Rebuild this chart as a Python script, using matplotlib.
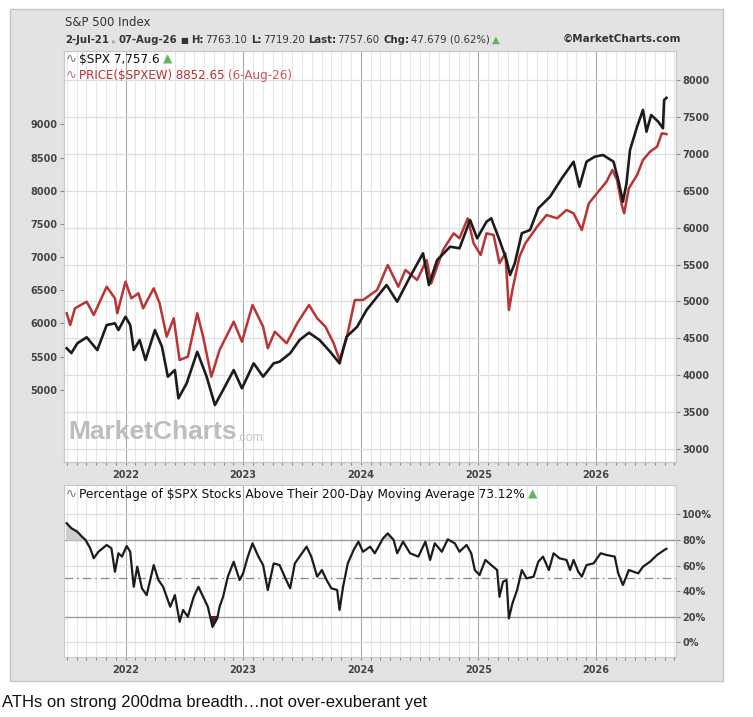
import numpy as np
import matplotlib.pyplot as plt
from matplotlib.patches import Rectangle
from matplotlib.lines import Line2D
from matplotlib.text import Annotation

plt.rcParams["font.family"] = ["DejaVu Sans"]

# --- data (decimal years) ---
t_spx = [2021.50, 2021.54, 2021.59, 2021.67, 2021.76, 2021.84, 2021.91, 2021.94,
         2022.00, 2022.04, 2022.07, 2022.12, 2022.17, 2022.25, 2022.31, 2022.36,
         2022.42, 2022.45, 2022.52, 2022.61, 2022.69, 2022.76, 2022.83, 2022.92,
         2022.99, 2023.09, 2023.17, 2023.26, 2023.31, 2023.40, 2023.48, 2023.56,
         2023.65, 2023.74, 2023.82, 2023.88, 2023.97, 2024.05, 2024.14, 2024.22,
         2024.31, 2024.42, 2024.53, 2024.58, 2024.65, 2024.76, 2024.84, 2024.93,
         2024.99, 2025.07, 2025.11, 2025.18, 2025.24, 2025.27, 2025.31, 2025.37,
         2025.44, 2025.51, 2025.61, 2025.71, 2025.81, 2025.86, 2025.92, 2025.99,
         2026.06, 2026.15, 2026.19, 2026.23, 2026.26, 2026.29, 2026.35, 2026.40,
         2026.43, 2026.47, 2026.53, 2026.57, 2026.58, 2026.60]
spx = [4365, 4300, 4432, 4514, 4341, 4680, 4703, 4612,
       4793, 4680, 4341, 4477, 4206, 4612, 4386, 3980,
       4070, 3687, 3890, 4318, 3980, 3596, 3800, 4070,
       3822, 4161, 3980, 4161, 4183, 4297, 4477, 4576,
       4477, 4318, 4161, 4522, 4657, 4884, 5064, 5222,
       4996, 5335, 5652, 5222, 5561, 5741, 5720, 6103,
       5855, 6080, 6126, 5832, 5561, 5358, 5516, 5923,
       5968, 6262, 6419, 6668, 6893, 6554, 6893, 6961,
       6984, 6893, 6645, 6351, 6600, 7052, 7367, 7594,
       7300, 7526, 7435, 7346, 7729, 7758]

t_ew = [2021.50, 2021.53, 2021.57, 2021.67, 2021.73, 2021.84, 2021.91, 2021.93,
        2022.00, 2022.05, 2022.11, 2022.15, 2022.24, 2022.29, 2022.35, 2022.41,
        2022.46, 2022.53, 2022.61, 2022.66, 2022.73, 2022.80, 2022.92, 2022.99,
        2023.08, 2023.17, 2023.21, 2023.27, 2023.37, 2023.46, 2023.56, 2023.63,
        2023.70, 2023.77, 2023.82, 2023.88, 2023.95,
        2024.02, 2024.14, 2024.23, 2024.32, 2024.38, 2024.48, 2024.56, 2024.60,
        2024.70, 2024.79, 2024.84, 2024.91, 2024.96,
        2025.02, 2025.07, 2025.13, 2025.18, 2025.23, 2025.26, 2025.29, 2025.35,
        2025.40, 2025.50, 2025.58, 2025.67, 2025.75, 2025.81, 2025.88, 2025.94,
        2026.02, 2026.09, 2026.14, 2026.18, 2026.22, 2026.24, 2026.28, 2026.35,
        2026.40, 2026.46, 2026.52, 2026.56, 2026.60]
ew = [6154, 5977, 6229, 6328, 6128, 6554, 6380, 6154,
      6630, 6380, 6455, 6229, 6530, 6304, 5801, 6078,
      5450, 5500, 6154, 5801, 5199, 5601, 6027, 5726,
      6279, 5952, 5627, 5877, 5702, 6003, 6279, 6078,
      5952, 5702, 5450, 5777, 6354,
      6354, 6505, 6881, 6554, 6806, 6655, 6956, 6605,
      7107, 7358, 7283, 7584, 7208,
      7032, 7358, 7333, 6907, 7057, 6203, 6505, 7006,
      7208, 7458, 7634, 7584, 7709, 7660, 7408, 7810,
      7985, 8136, 8312, 8161, 7785, 7660, 8036, 8236,
      8462, 8587, 8663, 8864, 8853]

t_br = [2021.50, 2021.54, 2021.59, 2021.63, 2021.66, 2021.70, 2021.73, 2021.77,
        2021.84, 2021.88, 2021.91, 2021.94, 2021.97,
        2022.01, 2022.04, 2022.07, 2022.10, 2022.14, 2022.18, 2022.24, 2022.28,
        2022.32, 2022.38, 2022.42, 2022.46, 2022.49, 2022.53, 2022.58, 2022.62,
        2022.66, 2022.70, 2022.74, 2022.78, 2022.80, 2022.83, 2022.87, 2022.92, 2022.97,
        2023.00, 2023.04, 2023.08, 2023.13, 2023.17, 2023.21, 2023.26, 2023.31,
        2023.36, 2023.40, 2023.44, 2023.48, 2023.54, 2023.58, 2023.63, 2023.67,
        2023.71, 2023.75, 2023.80, 2023.82, 2023.85, 2023.89, 2023.94, 2023.98,
        2024.02, 2024.08, 2024.12, 2024.19, 2024.23, 2024.28, 2024.31, 2024.36,
        2024.42, 2024.49, 2024.55, 2024.59, 2024.63, 2024.69, 2024.74, 2024.80,
        2024.84, 2024.90, 2024.94, 2024.97,
        2025.01, 2025.06, 2025.11, 2025.16, 2025.18, 2025.21, 2025.24, 2025.26,
        2025.29, 2025.33, 2025.37, 2025.41, 2025.47, 2025.51, 2025.55, 2025.60,
        2025.64, 2025.69, 2025.75, 2025.78, 2025.81, 2025.85, 2025.88, 2025.92, 2025.98,
        2026.04, 2026.09, 2026.16, 2026.19, 2026.23, 2026.28, 2026.32, 2026.36,
        2026.40, 2026.46, 2026.52, 2026.56, 2026.59, 2026.60]
breadth = [93.1, 89.2, 86.5, 82.6, 80.0, 73.5, 65.7, 70.8,
           76.1, 73.5, 55.2, 69.6, 67.0,
           75.3, 70.8, 43.4, 59.1, 42.2, 36.9, 60.4, 48.7,
           43.4, 27.8, 36.9, 16.1, 25.3, 20.0, 35.6, 43.4,
           35.6, 27.8, 12.1, 18.7, 27.8, 35.6, 51.3, 63.0, 48.7,
           53.9, 67.0, 77.4, 67.0, 60.4, 40.9, 61.7, 60.4,
           50.0, 42.2, 61.7, 67.0, 74.8, 67.0, 51.3, 56.5,
           48.7, 42.2, 40.9, 25.3, 43.4, 61.7, 72.2, 78.7,
           70.8, 74.8, 69.6, 81.3, 85.2, 80.0, 69.6, 78.7,
           69.6, 67.0, 78.7, 64.4, 77.4, 70.8, 80.5, 77.4,
           70.8, 76.1, 69.6, 56.5,
           52.6, 64.4, 60.4, 56.5, 35.6, 47.4, 48.7, 18.7,
           30.4, 40.9, 56.5, 50.0, 51.3, 63.0, 67.0, 56.5,
           69.6, 65.7, 64.4, 56.5, 64.4, 55.2, 51.3, 60.4, 61.7,
           69.6, 68.3, 67.0, 53.9, 44.8, 56.5, 55.2, 53.9,
           59.1, 63.0, 68.3, 70.8, 72.7, 73.12]

years = [2022, 2023, 2024, 2025, 2026]
left_ticks = list(range(5000, 9001, 500))
right_ticks = list(range(3000, 8001, 500))
pct_ticks = [0, 20, 40, 60, 80, 100]

W, H = 753, 717
fig = plt.figure(figsize=(W / 100, H / 100), dpi=100)
fig.patch.set_facecolor("white")


def fx(px):
    return px / W


def fy(py):
    return 1 - py / H


# gray chart frame
fig.add_artist(Rectangle((fx(10), fy(681)), fx(723) - fx(10), fy(9) - fy(681),
                         transform=fig.transFigure, facecolor="#e3e3e3",
                         edgecolor="#c6c6c6", lw=1, zorder=0))

X0, X1 = 2021.477, 2026.681
months = [y + m / 12 for y in range(2021, 2027) for m in range(12)]
months = [m for m in months if X0 < m < X1]

TICK = dict(labelsize=7, labelcolor="#444444", color="#888888", width=0.8)


def vgrid(a):
    for m in months:
        is_year = abs(m - round(m)) < 1e-6
        a.axvline(m, color="#aaaaaa" if is_year else "#e6e6e6", lw=0.8, zorder=0)


def style(a):
    for s in a.spines.values():
        s.set_color("#c8c8c8")
        s.set_linewidth(0.8)


def bold_labels(a):
    for lbl in a.get_xticklabels() + a.get_yticklabels():
        lbl.set_fontweight("bold")


# ---- price panel ----
ax = fig.add_axes([fx(64), fy(462), 612 / W, 411 / H])
axr = ax.twinx()
vgrid(ax)
for v in right_ticks:
    ax.add_line(Line2D([0, 1], [v, v], transform=axr.get_yaxis_transform(),
                       color="#dedede", lw=0.9, zorder=0.5))
ax.plot(t_ew, ew, color="#b93434", lw=1.8, zorder=2)
axr.plot(t_spx, spx, color="#1c1c1c", lw=1.9)
ax.set_xlim(X0, X1)
ax.set_ylim(3914, 10104)
axr.set_ylim(2824, 8393)
ax.set_yticks(left_ticks)
axr.set_yticks(right_ticks)
ax.set_xticks(years, [str(y) for y in years])
ax.set_xticks(months, minor=True)
ax.tick_params(axis="y", length=3, pad=1.5, **TICK)
axr.tick_params(axis="y", length=3, pad=1.5, **TICK)
ax.tick_params(axis="x", which="both", length=2, pad=4, **TICK)
style(ax)
style(axr)
bold_labels(ax)
bold_labels(axr)

# ---- breadth panel ----
axb = fig.add_axes([fx(64), fy(657), 612 / W, 172 / H])
vgrid(axb)
for v in [0, 40, 60, 100]:
    axb.axhline(v, color="#dedede", lw=0.9, zorder=0.5)
for v in [20, 80]:
    axb.axhline(v, color="#9a9a9a", lw=1.0, zorder=1)
axb.axhline(50, color="#8a8a8a", lw=0.9, dashes=(7, 3, 1.5, 3), zorder=1)
br = np.array(breadth)
axb.fill_between(t_br, br, 80, where=br >= 80, interpolate=True, color="#cdcdcd", zorder=1.5)
axb.fill_between(t_br, br, 20, where=br <= 20, interpolate=True, color="#5a1c1c", zorder=1.5)
axb.plot(t_br, br, color="#1c1c1c", lw=1.6, zorder=2)
axb.set_xlim(X0, X1)
axb.set_ylim(-11.5, 123)
axb.yaxis.tick_right()
axb.set_yticks(pct_ticks, [f"{v}%" for v in pct_ticks])
axb.set_xticks(years, [str(y) for y in years])
axb.set_xticks(months, minor=True)
axb.tick_params(axis="y", length=3, pad=1.5, **TICK)
axb.tick_params(axis="x", which="both", length=2, pad=4, **TICK)
style(axb)
bold_labels(axb)


# ---- texts ----
def run(x, y, pieces, size=7.5):
    """Write text pieces one after the other starting at pixel (x, y)."""
    prev = None
    for s, kw, gap in pieces:
        opts = dict(fontsize=size, color="#333333", va="bottom", ha="left")
        opts.update(kw)
        if prev is None:
            prev = fig.text(fx(x), fy(y + 6), s, zorder=5, **opts)
        else:
            ann = Annotation(s, xy=(1, 0), xycoords=prev, xytext=(gap, 0),
                             textcoords="offset points", **opts)
            ann.set_zorder(5)
            fig.add_artist(ann)
            prev = ann
    return prev


fig.text(fx(65), fy(23), "S&P 500 Index", fontsize=8.5, color="#333333", va="center")

B = dict(fontweight="bold")
run(65, 39, [
    ("2-Jul-21", B, 0),
    ("\u25b8", dict(color="#aaaaaa", fontsize=6), 2),
    ("07-Aug-26", B, 2),
    ("\u25a0", dict(fontsize=6), 2),
    ("H:", B, 2.5), ("7763.10", {}, 1),
    ("L:", B, 2.5), ("7719.20", {}, 1),
    ("Last:", B, 2.5), ("7757.60", {}, 1),
    ("Chg:", B, 2.5), ("47.679 (0.62%)", {}, 1),
    ("\u25b2", dict(color="#5cb85c"), 2),
], size=7.3)
fig.text(fx(563), fy(39), "\u00a9MarketCharts.com", fontsize=7.5, fontweight="bold",
         color="#333333", va="center")

# panel legends
ICON = 9.5
run(66, 60, [
    ("\u223f", dict(color="#777777", fontsize=ICON), 0),
    ("$SPX 7,757.6", dict(color="#111111"), 1.5),
    ("\u25b2", dict(color="#5cb85c"), 2),
], size=8.7)
run(66, 76, [
    ("\u223f", dict(color="#c07070", fontsize=ICON), 0),
    ("PRICE($SPXEW) 8852.65", dict(color="#b83232"), 1.5),
    ("(6-Aug-26)", dict(color="#cc5555"), 2),
], size=8.6)
run(66, 495, [
    ("\u223f", dict(color="#777777", fontsize=ICON), 0),
    ("Percentage of $SPX Stocks Above Their 200-Day Moving Average 73.12%",
     dict(color="#111111"), 1.5),
    ("\u25b2", dict(color="#5cb85c"), 2),
], size=8.7)

# watermark
run(68, 438, [
    ("MarketCharts", dict(color="#bdbdbd", fontweight="bold", family="Liberation Sans"), 0),
    (".com", dict(color="#c6c6c6", fontsize=9, family="Liberation Sans"), 0),
], size=19)

fig.text(fx(2), fy(703), "ATHs on strong 200dma breadth\u2026not over-exuberant yet",
         fontsize=12, family="Liberation Sans", color="#111111", va="center")

fig.savefig("out.png", dpi=100)
